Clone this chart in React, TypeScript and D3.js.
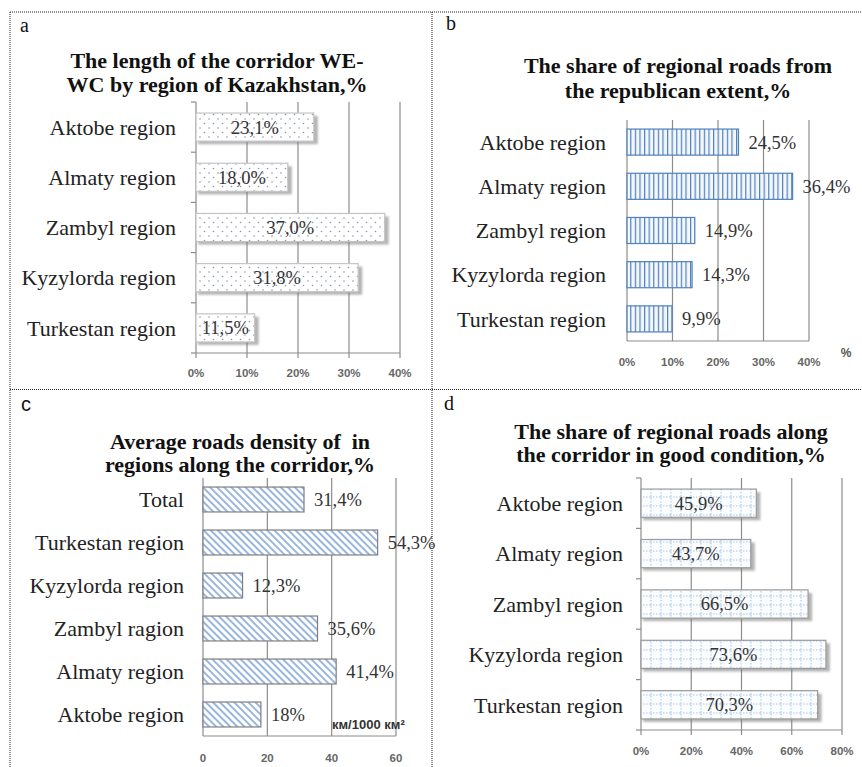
import React from "react";
import * as d3 from "d3";

const catsA = ["Aktobe region", "Almaty region", "Zambyl region", "Kyzylorda region", "Turkestan region"];
const valsA = [23.1, 18.0, 37.0, 31.8, 11.5];
const labsA = ["23,1%", "18,0%", "37,0%", "31,8%", "11,5%"];
const ticksA = [0, 10, 20, 30, 40];

const catsB = ["Aktobe region", "Almaty region", "Zambyl region", "Kyzylorda region", "Turkestan region"];
const valsB = [24.5, 36.4, 14.9, 14.3, 9.9];
const labsB = ["24,5%", "36,4%", "14,9%", "14,3%", "9,9%"];
const ticksB = [0, 10, 20, 30, 40];

const catsC = ["Total", "Turkestan region", "Kyzylorda region", "Zambyl ragion", "Almaty region", "Aktobe region"];
const valsC = [31.4, 54.3, 12.3, 35.6, 41.4, 18];
const labsC = ["31,4%", "54,3%", "12,3%", "35,6%", "41,4%", "18%"];
const ticksC = [0, 20, 40, 60];

const catsD = ["Aktobe region", "Almaty region", "Zambyl region", "Kyzylorda region", "Turkestan region"];
const valsD = [45.9, 43.7, 66.5, 73.6, 70.3];
const labsD = ["45,9%", "43,7%", "66,5%", "73,6%", "70,3%"];
const ticksD = [0, 20, 40, 60, 80];

const SERIF = "'Liberation Serif', 'DejaVu Serif', serif";
const SANS = "'Liberation Sans', Arial, sans-serif";

type PanelProps = {
  letter: string;
  letterX: number;
  letterY: number;
  letterFont: string;
  title: string[];
  titleX: number;
  titleY: number[];
  cats: string[];
  vals: number[];
  labs: string[];
  ticks: number[];
  tickFmt: (t: number) => string;
  x0: number;
  x1: number;
  y0: number;
  y1: number;
  pad: number;
  fill: string;
  stroke: string;
  shadow: boolean;
  labelInside: boolean;
  catX: number;
  tickY: number;
  leftTicks: boolean;
  bottomTicks: boolean;
};

function Panel(p: PanelProps) {
  const x = d3.scaleLinear().domain([p.ticks[0], p.ticks[p.ticks.length - 1]]).range([p.x0, p.x1]);
  const y = d3.scaleBand<string>().domain(p.cats).range([p.y0, p.y1]).paddingInner(p.pad).paddingOuter(p.pad / 2);
  const step = y.step();
  return (
    <g>
      <text x={p.letterX} y={p.letterY} fontFamily={p.letterFont} fontSize={20} fill="#111">{p.letter}</text>
      {p.title.map((t, i) => (
        <text key={i} x={p.titleX} y={p.titleY[i]} textAnchor="middle" fontFamily={SERIF} fontWeight="bold" fontSize={22} fill="#111" style={{ whiteSpace: "pre" }}>{t}</text>
      ))}
      {p.ticks.slice(1).map((t) => (
        <line key={t} x1={x(t)} x2={x(t)} y1={p.y0} y2={p.y1} stroke="#8c8c8c" strokeWidth={1.2} />
      ))}
      <line x1={p.x0} x2={p.x0} y1={p.y0} y2={p.y1} stroke="#8c8c8c" strokeWidth={1.2} />
      <line x1={p.x0} x2={p.x1} y1={p.y1} y2={p.y1} stroke="#8c8c8c" strokeWidth={1.2} />
      {p.leftTicks && p.cats.map((c, i) => (
        <line key={c} x1={p.x0 - 5} x2={p.x0} y1={p.y0 + i * step} y2={p.y0 + i * step} stroke="#8c8c8c" strokeWidth={1.2} />
      ))}
      {p.leftTicks && <line x1={p.x0 - 5} x2={p.x0} y1={p.y1} y2={p.y1} stroke="#8c8c8c" strokeWidth={1.2} />}
      {p.bottomTicks && p.ticks.map((t) => (
        <line key={t} x1={x(t)} x2={x(t)} y1={p.y1} y2={p.y1 + 5} stroke="#8c8c8c" strokeWidth={1.2} />
      ))}
      {p.cats.map((c, i) => {
        const by = y(c) as number;
        const bw = x(p.vals[i]) - p.x0;
        const bh = y.bandwidth();
        return (
          <g key={c}>
            {p.shadow && (
              <rect x={p.x0 + 2} y={by + 3} width={bw + 2} height={bh} fill="#777" opacity={0.55} filter="url(#blur)" />
            )}
            <rect x={p.x0} y={by} width={bw} height={bh} fill="#fff" />
            <rect x={p.x0} y={by} width={bw} height={bh} fill={p.fill} stroke={p.stroke} strokeWidth={1.2} />
            <text
              x={p.labelInside ? p.x0 + bw / 2 : p.x0 + bw + 10}
              y={by + bh / 2}
              dy="0.35em"
              textAnchor={p.labelInside ? "middle" : "start"}
              fontFamily={SERIF}
              fontSize={18.5}
              fill="#333"
            >
              {p.labs[i]}
            </text>
            <text x={p.catX} y={by + bh / 2} dy="0.35em" textAnchor="end" fontFamily={SERIF} fontSize={22} fill="#222">
              {c}
            </text>
          </g>
        );
      })}
      {p.ticks.map((t) => (
        <text key={t} x={x(t)} y={p.tickY} textAnchor="middle" fontFamily={SANS} fontWeight="bold" fontSize={11.5} fill="#666">
          {p.tickFmt(t)}
        </text>
      ))}
    </g>
  );
}

const pct = (t: number) => `${t}%`;
const num = (t: number) => `${t}`;

export default function App() {
  return (
    <svg width={862} height={767} style={{ position: "absolute", left: 0, top: 0, background: "#fff" }}>
      <defs>
        <filter id="blur" x="-10%" y="-30%" width="130%" height="170%">
          <feGaussianBlur stdDeviation={1.3} />
        </filter>
        <pattern id="dots" width={9} height={9} patternUnits="userSpaceOnUse">
          <circle cx={2} cy={2} r={0.8} fill="#8795ad" />
          <circle cx={6.5} cy={6.5} r={0.8} fill="#8795ad" />
        </pattern>
        <pattern id="vstripes" width={4.6} height={10} patternUnits="userSpaceOnUse">
          <rect width={4.6} height={10} fill="#f3f7fc" />
          <line x1={0.6} x2={0.6} y1={0} y2={10} stroke="#4f81bd" strokeWidth={1.2} />
        </pattern>
        <pattern id="diag" width={5} height={5} patternUnits="userSpaceOnUse" patternTransform="rotate(45)">
          <rect width={5} height={5} fill="#fff" />
          <line x1={0} x2={5} y1={1} y2={1} stroke="#8eaedb" strokeWidth={1.8} />
        </pattern>
        <pattern id="grid" width={10} height={9} patternUnits="userSpaceOnUse">
          <rect width={10} height={9} fill="#fbfdff" />
          <line x1={1} x2={1} y1={0} y2={9} stroke="#9cc0e6" strokeWidth={0.9} strokeDasharray="1.5,1.5" />
          <line x1={0} x2={10} y1={2} y2={2} stroke="#9cc0e6" strokeWidth={0.9} strokeDasharray="1.5,1.5" />
        </pattern>
      </defs>

      <g stroke="#222" strokeWidth={1} strokeDasharray="1,1" fill="none">
        <line x1={10} x2={862} y1={12} y2={12} />
        <line x1={10} x2={862} y1={389.5} y2={389.5} />
        <line x1={10} x2={10} y1={12} y2={767} />
        <line x1={432} x2={432} y1={12} y2={767} />
      </g>

      <Panel
        letter="a" letterX={20} letterY={32} letterFont={SERIF}
        title={["The length of the corridor WE-", "WC by region of Kazakhstan,%"]}
        titleX={217} titleY={[68, 92]}
        cats={catsA} vals={valsA} labs={labsA} ticks={ticksA} tickFmt={pct}
        x0={196} x1={400} y0={102} y1={353} pad={0.44}
        fill="url(#dots)" stroke="#c4c4c4" shadow={true} labelInside={true}
        catX={176} tickY={377} leftTicks={true} bottomTicks={true}
      />
      <Panel
        letter="b" letterX={446} letterY={30} letterFont={SERIF}
        title={["The share of regional roads from", "the republican extent,%"]}
        titleX={678} titleY={[73, 98]}
        cats={catsB} vals={valsB} labs={labsB} ticks={ticksB} tickFmt={pct}
        x0={627} x1={809} y0={120} y1={341} pad={0.41}
        fill="url(#vstripes)" stroke="#4f81bd" shadow={false} labelInside={false}
        catX={606} tickY={366} leftTicks={false} bottomTicks={false}
      />
      <Panel
        letter="c" letterX={21} letterY={411} letterFont={SANS}
        title={["Average roads density of  in", "regions along the corridor,%"]}
        titleX={240} titleY={[449, 472]}
        cats={catsC} vals={valsC} labs={labsC} ticks={ticksC} tickFmt={num}
        x0={203} x1={396} y0={478} y1={736} pad={0.42}
        fill="url(#diag)" stroke="#7f7f7f" shadow={false} labelInside={false}
        catX={184} tickY={762} leftTicks={false} bottomTicks={false}
      />
      <Panel
        letter="d" letterX={444} letterY={410} letterFont={SERIF}
        title={["The share of regional roads along", "the corridor in good condition,%"]}
        titleX={671} titleY={[439, 462]}
        cats={catsD} vals={valsD} labs={labsD} ticks={ticksD} tickFmt={pct}
        x0={641} x1={842} y0={478} y1={730} pad={0.44}
        fill="url(#grid)" stroke="#9a9a9a" shadow={true} labelInside={true}
        catX={623} tickY={755} leftTicks={true} bottomTicks={true}
      />
      <text x={846} y={357} textAnchor="middle" fontFamily={SANS} fontWeight="bold" fontSize={12} fill="#555">%</text>
      <text x={332} y={729} fontFamily={SANS} fontWeight="bold" fontSize={13} fill="#333">км/1000 км²</text>
    </svg>
  );
}
